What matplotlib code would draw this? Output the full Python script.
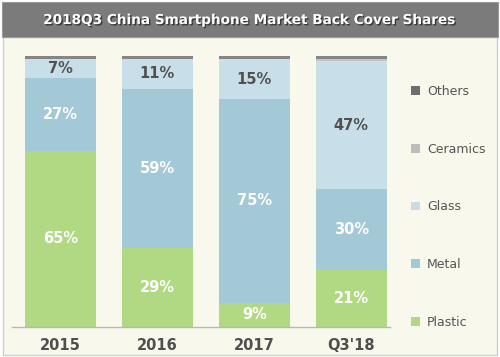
import matplotlib
matplotlib.use("Agg")
import matplotlib.pyplot as plt
import matplotlib.patheffects as pe
from matplotlib.patches import Rectangle, Patch
import numpy as np

categories = ["2015", "2016", "2017", "Q3'18"]
plastic = [65, 29, 9, 21]
metal = [27, 59, 75, 30]
glass = [7, 11, 15, 47]
ceramics = [0, 0, 0, 1]
others = [1, 1, 1, 1]

series = [("Plastic", plastic, "#b1d882", "white"),
          ("Metal", metal, "#a3c8d6", "white"),
          ("Glass", glass, "#c8dfe9", "#505050"),
          ("Ceramics", ceramics, "#c4c4c4", "#505050"),
          ("Others", others, "#858585", "#505050")]
legend_colors = {"Plastic": "#b1d882", "Metal": "#a3c8d6", "Glass": "#c8dce8",
                 "Ceramics": "#bdbdbd", "Others": "#6e6e6e"}

W, H = 500, 357
fig = plt.figure(figsize=(W / 100, H / 100), dpi=100, facecolor="white")

# background panels
fig.patches.append(Rectangle((3 / W, 2 / H), 494 / W, 318 / H, transform=fig.transFigure,
                             facecolor="#f8f8ec", edgecolor="#cfcfcf", lw=1, zorder=-2))
fig.patches.append(Rectangle((2 / W, 1 - 37 / H), 496 / W, 35 / H, transform=fig.transFigure,
                             facecolor="#7b7b7b", edgecolor="#9a9a9a", lw=0.8, zorder=-2))
fig.text(0.5, 1 - 20 / H, "2018Q3 China Smartphone Market Back Cover Shares",
         ha="center", va="center", color="white", fontsize=9.8, fontweight="bold",
         path_effects=[pe.withSimplePatchShadow(offset=(1, -1), shadow_rgbFace="#2a2a2a", alpha=0.8)])

ax = fig.add_axes([12 / W, 30 / H, 378 / W, 271 / H])
ax.set_zorder(2)
ax.set_facecolor("none")
x = np.arange(len(categories))
bottom = np.zeros(len(categories))
for name, vals, col, tcol in series:
    vals = np.array(vals, dtype=float)
    ax.bar(x, vals, 0.73, bottom=bottom, color=col, edgecolor="none", zorder=2)
    if name in ("Plastic", "Metal", "Glass"):
        for xi, b, v in zip(x, bottom, vals):
            ax.text(xi, b + v / 2, f"{int(v)}%", ha="center", va="center",
                    color=tcol, fontsize=10.5, fontweight="bold", zorder=3)
    bottom += vals

ax.set_xlim(-0.5, 3.4)
ax.set_ylim(0, 100)
ax.set_yticks([])
ax.set_xticks(x)
ax.set_xticklabels(categories, fontsize=10.5, fontweight="bold", color="#4f4f4f")
ax.tick_params(axis="x", length=0, pad=8)
for s in ["top", "right", "left"]:
    ax.spines[s].set_visible(False)
ax.spines["bottom"].set_color("#b8b8b8")
ax.spines["bottom"].set_linewidth(1)

handles = [Patch(facecolor=legend_colors[n], edgecolor="none", label=n)
           for n, _, _, _ in reversed(series)]
leg = fig.legend(handles=handles, loc="upper left", bbox_to_anchor=(406 / W, 1 - 80 / H),
                 frameon=False, fontsize=9, labelcolor="#555555", handlelength=0.7,
                 handleheight=0.7, handletextpad=0.6, labelspacing=3.57, borderaxespad=0)
leg.set_zorder(3)

fig.savefig("out.png", dpi=100, facecolor=fig.get_facecolor())
